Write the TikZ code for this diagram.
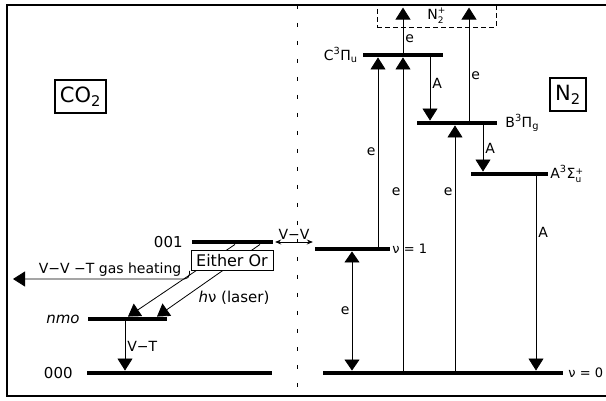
\documentclass[tikz,border=0pt]{standalone}
\usepackage{fontspec}
\setmainfont{DejaVu Sans}
\usetikzlibrary{positioning, arrows.meta, calc}

\newcommand{\supsub}[2]{\raisebox{-0.55ex}{\fontsize{9}{8.5}\selectfont\shortstack[l]{#1\\#2}}}

\begin{document}
\begin{tikzpicture}[
  x=1pt, y=-1pt,
  font=\fontsize{14}{17}\selectfont,
  bar/.style={fill=black, inner sep=0pt, minimum height=4.5pt},
  lvl/.style={inner sep=1pt},
  lbl/.style={inner sep=2pt},
  arr/.style={-{Triangle[width=15pt, length=12pt]}, line width=0.8pt},
  dblarr/.style={{Triangle[width=15pt, length=11pt]}-{Triangle[width=15pt, length=11pt]}, line width=0.8pt},
  tag/.style={draw, line width=1.3pt, inner sep=2pt, font=\fontsize{21}{24}\selectfont},
  smallhead/.style={{Stealth[length=6pt, width=5pt]}-{Stealth[length=6pt, width=5pt]}, line width=0.8pt},
]
\useasboundingbox (0,0) rectangle (606,401);

% --- frame and divider ---
\draw[line width=1.2pt] (606,5) -- (7,5) -- (7,396) -- (606,396);
\draw[dash pattern=on 4pt off 14pt, line width=0.8pt] (297,5) -- (297,396);

% --- species tags ---
\node[tag, minimum width=51pt, minimum height=33pt] (co2) at (80.5,96.5) {CO\textsubscript{2}};
\node[tag, minimum width=36pt, minimum height=33pt] (n2)  at (568,94.5) {N\textsubscript{2}};

% --- CO2 levels (left) ---
\node[bar, minimum width=81pt]  (c001) at (232.5,242) {};
\node[bar, minimum width=79pt]  (nmo)  at (127.5,319) {};
\node[bar, minimum width=185pt] (c000) at (179.5,373) {};

\node[lvl, left=8pt of c001, font=\fontsize{15}{17}\selectfont] {001};
\node[lvl, left=7pt of nmo, font=\fontsize{15}{17}\selectfont] {\textit{nmo}};
\node[lvl, left=13pt of c000, font=\fontsize{15}{17}\selectfont] {000};

% --- N2 levels (right) ---
\node[bar, minimum width=80pt]  (C)   at (403,55) {};
\node[bar, minimum width=80pt]  (B)   at (457,123) {};
\node[bar, minimum width=77pt]  (Ast) at (509.5,174) {};
\node[bar, minimum width=75pt]  (v1)  at (352.5,249) {};
\node[bar, minimum width=240pt] (v0)  at (443,373) {};

\node[lvl, left=4pt of C]   {C\textsuperscript{3}Π\textsubscript{u}};
\node[lvl, right=7pt of B]  {B\textsuperscript{3}Π\textsubscript{g}};
\node[lvl, right=1pt of Ast] {A\textsuperscript{3}Σ\supsub{+}{u}};
\node[lvl, right=1pt of v1, font=\fontsize{13}{15}\selectfont] {ν = 1};
\node[lvl, right=4pt of v0, font=\fontsize{13}{15}\selectfont] {ν = 0};

% --- ion box ---
\node[draw, dash pattern=on 5pt off 3pt, line width=0.8pt, minimum width=119pt,
  minimum height=22pt, inner sep=0pt] (ion) at (436.5,16) {N\supsub{+}{2}};

% --- columns for vertical transitions ---
\coordinate (xVT) at (125,0);
\coordinate (xE)  at (352,0);
\coordinate (x1C) at (378,0);
\coordinate (x0C) at (403,0);
\coordinate (xCB) at (430,0);
\coordinate (x0B) at (455,0);
\coordinate (xBN) at (469,0);
\coordinate (xBA) at (483,0);
\coordinate (xA0) at (536,0);
\coordinate (heat) at (13,279);

% --- N2 transitions ---
\draw[arr] (x1C |- v1.north) -- node[lbl, left] {e} (x1C |- C.south);
\draw[arr] (x0C |- v0.north) -- node[lbl, pos=0.57, left] {e} (x0C |- C.south);
\draw[arr] (x0C |- C.north) -- node[lbl, pos=0.3, right] {e} ($(x0C |- ion.north)+(0,3)$);
\draw[arr] (xBN |- B.north) -- node[lbl, pos=0.4, right] {e} ($(xBN |- ion.north)+(0,3)$);
\draw[arr] (xCB |- C.south) -- node[lbl, pos=0.41, right] {A} (xCB |- B.north);
\draw[arr] (x0B |- v0.north) -- node[lbl, pos=0.73, left] {e} (x0B |- B.south);
\draw[arr] (xBA |- B.south) -- node[lbl, midway, right] {A} (xBA |- Ast.north);
\draw[arr] (xA0 |- Ast.south) -- node[lbl, pos=0.29, right] {A} (xA0 |- v0.north);
\draw[dblarr] (xE |- v1.south) -- node[lbl, left] {e} (xE |- v0.north);

% --- CO2 transitions ---
\draw[arr] ([xshift=2.5pt]c001.south) -- ([xshift=0.5pt]nmo.north);
\draw[arr] ([xshift=27.5pt]c001.south) --
  node[lbl, pos=0.62, anchor=north west, font=\fontsize{15}{17}\selectfont] {\textit{h}ν (laser)}
  ([xshift=29.5pt]nmo.north);
\draw[arr] (xVT |- nmo.south) -- node[lbl, midway, right] {V−T} (xVT |- c000.north);

\node[draw, line width=1pt, fill=white, minimum width=82pt, minimum height=20pt,
  inner sep=0pt, font=\fontsize{16}{18}\selectfont] (either) at (232,260.5) {Either Or};

\draw[arr, rounded corners=5pt] ([xshift=-1pt]either.south west) |-
  node[lbl, pos=0.725, above] {V−V −T gas heating} (heat);

% --- V-V exchange ---
\draw[smallhead] ([xshift=2pt]c001.east) -- node[lbl, above] {V−V}
  ([xshift=-2pt]v1.west |- c001.east);

\end{tikzpicture}
\end{document}
